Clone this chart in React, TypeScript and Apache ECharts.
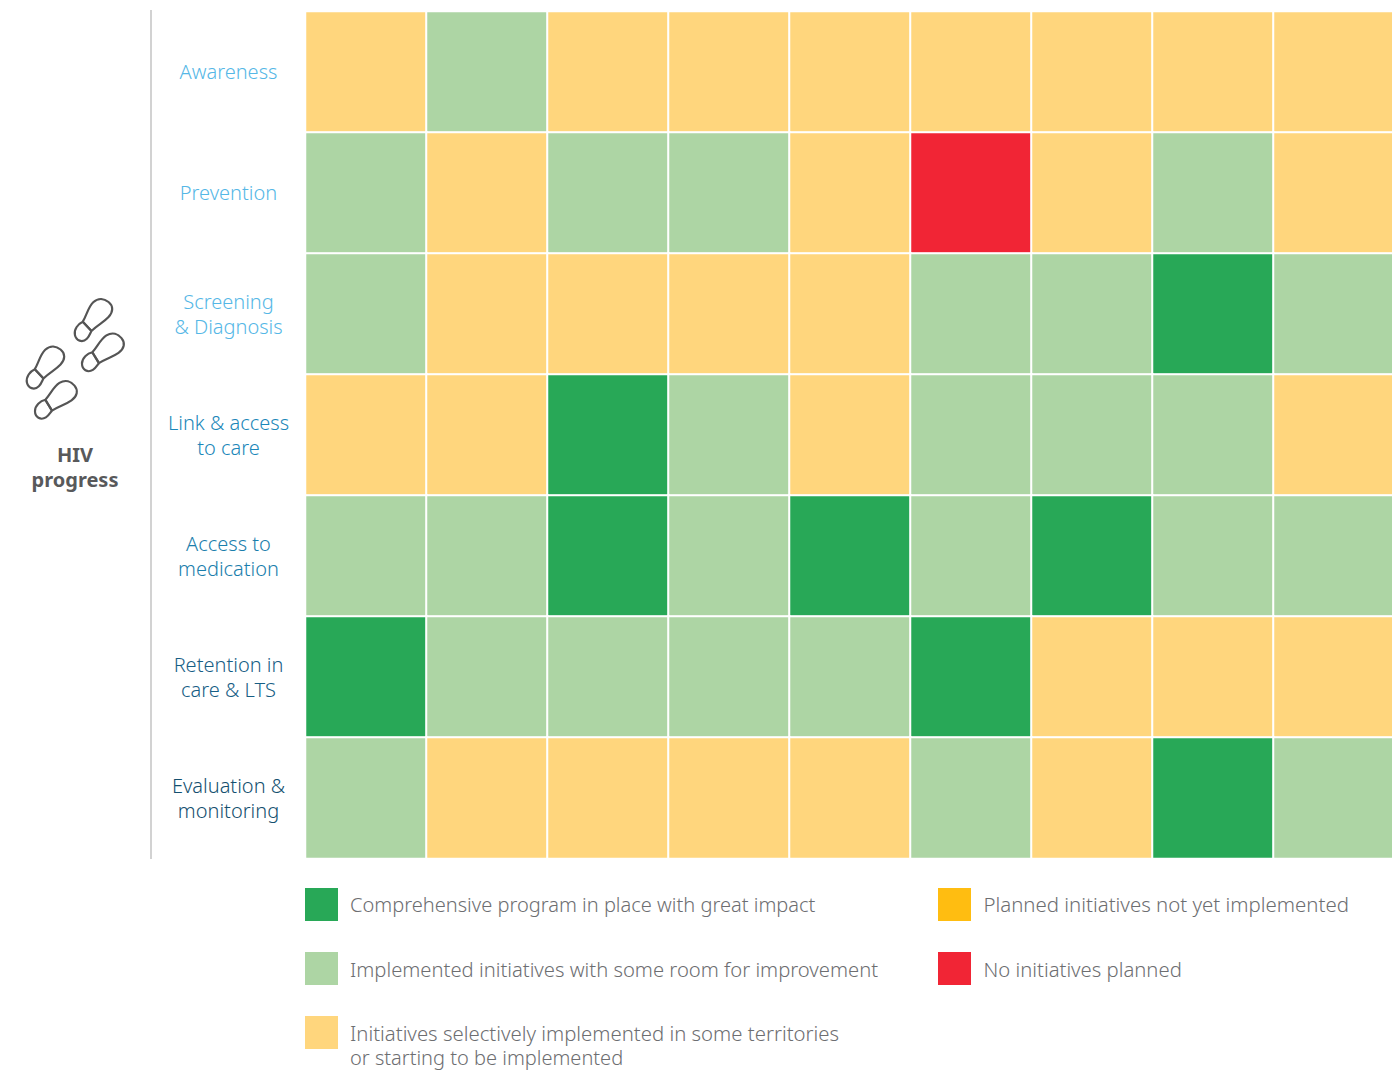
import React, { useEffect, useRef } from "react";
import * as echarts from "echarts";

const FONT = "'Noto Sans', sans-serif";
const stages = [
  "Awareness",
  "Prevention",
  "Screening\n& Diagnosis",
  "Link & access\nto care",
  "Access to\nmedication",
  "Retention in\ncare & LTS",
  "Evaluation &\nmonitoring",
];
const stageColors = ["#55B7E6", "#55B7E6", "#55B7E6", "#1B87B9", "#1A7EAC", "#175E85", "#14506F"];
const columns = ["1", "2", "3", "4", "5", "6", "7", "8", "9"];
const levelColors = ["#28A857", "#ADD5A4", "#FFD67D", "#FFBD11", "#F12535"];
const levelNames = [
  "Comprehensive program in place with great impact",
  "Implemented initiatives with some room for improvement",
  "Initiatives selectively implemented in some territories\nor starting to be implemented",
  "Planned initiatives not yet implemented",
  "No initiatives planned",
];
const rowAwareness = [2, 1, 2, 2, 2, 2, 2, 2, 2];
const rowPrevention = [1, 2, 1, 1, 2, 4, 2, 1, 2];
const rowScreening = [1, 2, 2, 2, 2, 1, 1, 0, 1];
const rowLink = [2, 2, 0, 1, 2, 1, 1, 1, 2];
const rowAccess = [1, 1, 0, 1, 0, 1, 0, 1, 1];
const rowRetention = [0, 1, 1, 1, 1, 0, 2, 2, 2];
const rowEvaluation = [1, 2, 2, 2, 2, 1, 2, 0, 1];
const rows = [rowAwareness, rowPrevention, rowScreening, rowLink, rowAccess, rowRetention, rowEvaluation];

const SHOE = "M-7.5 7 C-8.5 -1 -13 -9 -12 -17 C-11 -25 -5 -28 1 -28 C8 -28 12 -23 11.5 -15 C11 -7 7.5 -1 6.5 9 Z M-7.5 7 C-10 12 -10 20 -5 24 C0 28 7 26 8 19 C8.5 15 7 12 6.5 9";
echarts.graphic.registerShape("shoe", echarts.graphic.extendPath(SHOE, {}) as any);

export default function App() {
  const ref = useRef<HTMLDivElement>(null);
  useEffect(() => {
    const chart = echarts.init(ref.current!, null, { renderer: "svg" });
    const data: number[][] = [];
    rows.forEach((r, y) => r.forEach((v, x) => data.push([x, y, v])));
    const shoeStyle = { fill: "none", stroke: "#555555", lineWidth: 2.4 };
    const shoes = [
      [92, 321, -0.68],
      [101.5, 353.5, -0.88],
      [44, 368.5, -0.68],
      [54.5, 401, -0.88],
    ];
    const legendPos = [
      [305, 888, 350, [904], [20.05]],
      [305, 952, 350, [969], [20.22]],
      [305, 1016, 350, [1032.5, 1057.5], [20.33, 20]],
      [938, 888, 983.5, [904], [20.42]],
      [938, 952, 983.5, [969], [20.28]],
    ] as [number, number, number, number[], number[]][];
    chart.setOption({
      animation: false,
      grid: { left: 305.5, top: 11.5, right: 0.5, height: 847, containLabel: false },
      xAxis: { type: "category", data: columns, show: false, splitArea: { show: false } },
      yAxis: {
        type: "category",
        data: stages,
        inverse: true,
        axisLine: { show: false },
        axisTick: { show: false },
        splitLine: { show: false },
        axisLabel: {
          margin: 77,
          align: "center",
          fontFamily: FONT,
          fontSize: 20,
          fontWeight: 300,
          lineHeight: 25,
          color: (_: any, i: number) => stageColors[i],
          formatter: (v: string) => (v.includes("\n") ? v : `{single|${v}}`),
          rich: {
            single: {
              fontFamily: FONT,
              fontSize: 20,
              fontWeight: 300,
              color: stageColors[0],
              padding: [0, 0, 2, 0],
            },
          },
        },
      },
      visualMap: {
        show: false,
        type: "piecewise",
        dimension: 2,
        pieces: levelColors.map((c, i) => ({ value: i, color: c })),
      },
      series: [
        {
          type: "heatmap",
          data,
          itemStyle: { borderColor: "#ffffff", borderWidth: 2 },
          emphasis: { disabled: true },
        },
      ],
      graphic: [
        { type: "rect", shape: { x: 150, y: 10, width: 2, height: 849 }, style: { fill: "#D2D2D2" } },
        ...shoes.map(([x, y, r]) => ({ type: "shoe", x, y, rotation: r, scaleX: 0.9, scaleY: 0.9, style: shoeStyle })),
        ...shoes.map(([x, y, r]) => ({
          type: "line",
          x,
          y,
          rotation: r,
          scaleX: 0.9,
          scaleY: 0.9,
          shape: { x1: -7.5, y1: 7, x2: 6.5, y2: 9 },
          style: { stroke: "#555555", lineWidth: 2.4 },
        })),
        ...[["HIV", 454.5], ["progress", 479.5]].map(([t, y]) => ({
          type: "text",
          x: 75,
          y,
          style: {
            text: t,
            font: `700 20px ${FONT}`,
            fill: "#58595B",
            align: "center",
            verticalAlign: "middle",
          },
        })),
        ...levelNames.flatMap((name, i) => {
          const [rx, ry, tx, tys, sizes] = legendPos[i];
          return [
            { type: "rect", shape: { x: rx, y: ry, width: 33, height: 33 }, style: { fill: levelColors[i] } },
            ...name.split("\n").map((line, j) => ({
              type: "text",
              x: tx,
              y: tys[j],
              style: {
                text: line,
                font: `300 ${sizes[j]}px ${FONT}`,
                lineHeight: 25,
                fill: "#6D6E71",
                align: "left",
                verticalAlign: "middle",
              },
            })),
          ];
        }),
      ],
    });
    return () => chart.dispose();
  }, []);
  return (
    <div style={{ position: "absolute", left: 0, top: 0, width: 1392, height: 1070, overflow: "hidden", background: "#fff" }}>
      <div ref={ref} style={{ width: 1395, height: 1070 }} />
    </div>
  );
}
